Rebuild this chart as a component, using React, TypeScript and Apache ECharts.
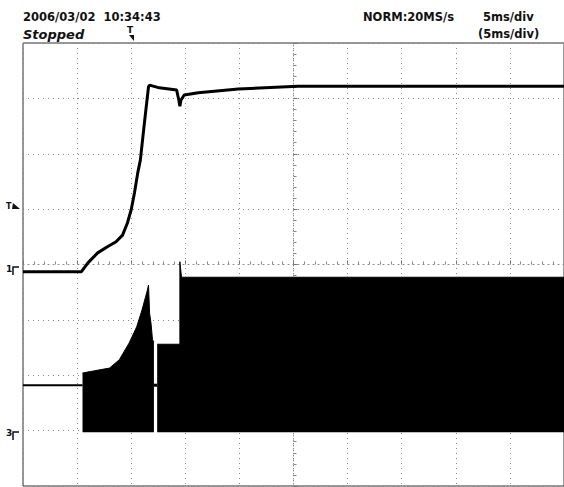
import React, { useEffect, useRef } from "react";
import * as echarts from "echarts";

// Time in ms relative to screen centre (5 ms/div, 10 div), amplitude in divisions
const ch1Time = [-25, -19.6, -19.0, -18.1, -17.2, -16.4, -15.8, -15.35, -15.0, -14.7, -14.4, -14.15, -13.8, -13.4, -13.3, -12.4, -11.5, -10.8, -10.6, -10.5, -10.4, -10.1, -8.8, -5.1, 0.4, 25];
const ch1Value = [-0.13, -0.13, 0.03, 0.21, 0.32, 0.41, 0.53, 0.75, 0.99, 1.29, 1.65, 1.89, 2.52, 3.21, 3.24, 3.19, 3.17, 3.15, 2.97, 2.86, 2.97, 3.06, 3.1, 3.17, 3.22, 3.22];

const ch3BaseTime = [-25, -19.5];
const ch3BaseValue = [-2.18, -2.18];
const ch3GapTime = [-12.9, -12.6];
const ch3GapValue = [-2.18, -2.18];

const ch3EnvATime = [-19.5, -18.4, -17.0, -16.1, -15.2, -14.5, -14.0, -13.5, -13.4, -13.3, -13.17, -13.03, -12.9];
const ch3EnvAValue = [-1.96, -1.92, -1.87, -1.72, -1.42, -1.13, -0.82, -0.46, -0.37, -0.88, -1.06, -1.36, -1.4];
const ch3EnvBTime = [-12.6, -10.5, -10.5, -10.35, 25];
const ch3EnvBValue = [-1.44, -1.44, 0.05, -0.23, -0.23];
const ch3Bottom = -3.03;

const headerTexts = ["2006/03/02  10:34:43", "Stopped", "NORM:20MS/s", "5ms/div", "(5ms/div)"];

const zip = (a: number[], b: number[]) => a.map((v, i) => [v, b[i]]);

export default function App() {
  const ref = useRef<HTMLDivElement>(null);
  useEffect(() => {
    if (!ref.current) return;
    const chart = echarts.init(ref.current, null, { renderer: "svg" });
    const font = "DejaVu Sans";
    const hdr = `bold 11.5px "${font}"`;
    const dotted = { color: "#8a8a8a", width: 1, type: [1, 4] as any };
    chart.setOption({
      animation: false,
      backgroundColor: "#fff",
      grid: { left: 23, top: 43, width: 545, height: 443, show: true, borderColor: "#333", borderWidth: 1 },
      xAxis: {
        type: "value", min: -25, max: 25, interval: 5,
        axisLabel: { show: false },
        axisLine: { show: true, onZero: true, lineStyle: dotted },
        axisTick: { show: true, inside: true, length: 4, lineStyle: { color: "#777" } },
        minorTick: { show: true, splitNumber: 5, length: 3, lineStyle: { color: "#888" } },
        splitLine: { show: true, lineStyle: dotted },
      },
      yAxis: {
        type: "value", min: -4, max: 4, interval: 1,
        axisLabel: { show: false },
        axisLine: { show: true, onZero: true, lineStyle: dotted },
        axisTick: { show: true, inside: true, length: 4, lineStyle: { color: "#777" } },
        minorTick: { show: true, splitNumber: 5, length: 3, lineStyle: { color: "#888" } },
        splitLine: { show: true, lineStyle: dotted },
      },
      series: [
        {
          type: "line", data: zip(ch3EnvATime, ch3EnvAValue), showSymbol: false,
          lineStyle: { color: "#000", width: 1 },
          areaStyle: { color: "#000", opacity: 1, origin: ch3Bottom },
        },
        {
          type: "line", data: zip(ch3EnvBTime, ch3EnvBValue), showSymbol: false,
          lineStyle: { color: "#000", width: 1 },
          areaStyle: { color: "#000", opacity: 1, origin: ch3Bottom },
        },
        {
          type: "line", data: zip(ch3BaseTime, ch3BaseValue), showSymbol: false,
          lineStyle: { color: "#000", width: 2 },
        },
        {
          type: "line", data: zip(ch3GapTime, ch3GapValue), showSymbol: false,
          lineStyle: { color: "#000", width: 3 },
        },
        {
          type: "line", data: zip(ch1Time, ch1Value), showSymbol: false,
          lineStyle: { color: "#000", width: 3 },
        },
      ],
      graphic: [
        { type: "text", left: 23, top: 11, style: { text: headerTexts[0], font: hdr, fill: "#111" } },
        { type: "text", left: 23, top: 28, style: { text: headerTexts[1], font: `italic bold 13px "${font}"`, fill: "#111" } },
        { type: "text", left: 363, top: 11, style: { text: headerTexts[2], font: hdr, fill: "#111" } },
        { type: "text", left: 483, top: 11, style: { text: headerTexts[3], font: hdr, fill: "#111" } },
        { type: "text", left: 478, top: 28, style: { text: headerTexts[4], font: hdr, fill: "#111" } },
        // trigger position marker
        { type: "text", left: 127, top: 25, style: { text: "T", font: `bold 9px "${font}"`, fill: "#111" } },
        { type: "polygon", shape: { points: [[129, 35], [134, 35], [134, 41]] }, style: { fill: "#111" } },
        // trigger level marker
        { type: "text", left: 6, top: 202, style: { text: "T", font: `bold 8px "${font}"`, fill: "#111" } },
        { type: "polygon", shape: { points: [[12, 209], [20, 209], [13, 203]] }, style: { fill: "#111" } },
        // channel 1 marker
        { type: "text", left: 6, top: 264, style: { text: "1", font: `bold 9px "${font}"`, fill: "#111" } },
        { type: "polyline", shape: { points: [[13, 275], [13, 267], [19, 267]] }, style: { stroke: "#111", lineWidth: 1.5, fill: "none" } },
        // channel 3 marker
        { type: "text", left: 6, top: 428, style: { text: "3", font: `bold 9px "${font}"`, fill: "#111" } },
        { type: "polyline", shape: { points: [[13, 440], [13, 432], [19, 432]] }, style: { stroke: "#111", lineWidth: 1.5, fill: "none" } },
      ],
    });
    return () => chart.dispose();
  }, []);
  return <div ref={ref} style={{ position: "absolute", left: 0, top: 0, width: 564, height: 487 }} />;
}
